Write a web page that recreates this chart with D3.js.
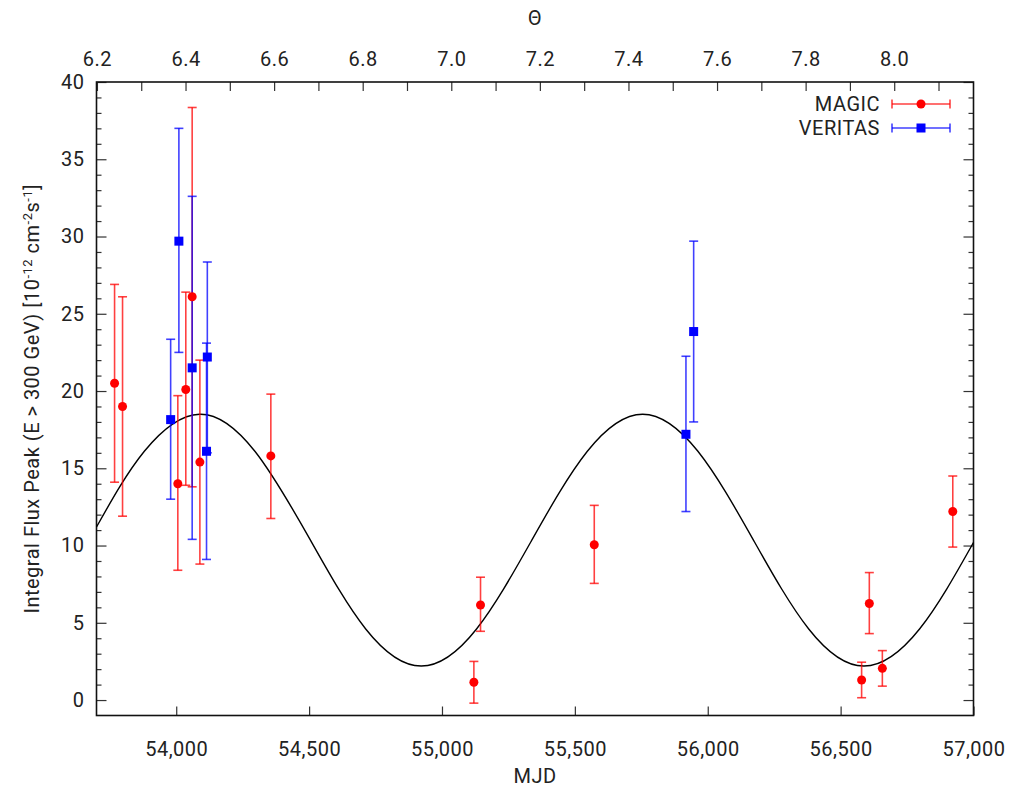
<!DOCTYPE html>
<html>
<head>
<meta charset="utf-8">
<script src="https://cdn.jsdelivr.net/npm/d3@7"></script>
<style>
  body { margin: 0; background: #fff; }
  svg text { font-family: Roboto, "Noto Sans", sans-serif; fill: #222; letter-spacing: 0.5px; }
</style>
</head>
<body>
<div id="chart"></div>
<script>
const WIDTH = 1019, HEIGHT = 790;
const MARGIN = { TOP: 82, BOTTOM: 74.5, LEFT: 96.5, RIGHT: 45.5 };
const width = WIDTH - MARGIN.LEFT - MARGIN.RIGHT;
const height = HEIGHT - MARGIN.TOP - MARGIN.BOTTOM;

// MAGIC points: MJD, flux, upper, lower
const magic_mjd   = [53768, 53798, 54006, 54036, 54060, 54089, 54356, 55120, 55145, 55573, 56579, 56608, 56657, 56922];
const magic_flux  = [20.5, 19.0, 14.0, 20.1, 26.1, 15.4, 15.8, 1.15, 6.15, 10.05, 1.3, 6.25, 2.05, 12.2];
const magic_up    = [26.9, 26.1, 19.7, 26.4, 38.35, 22.0, 19.8, 2.5, 7.95, 12.6, 2.45, 8.25, 3.2, 14.5];
const magic_low   = [14.1, 11.9, 8.4, 13.9, 13.8, 8.8, 11.75, -0.2, 4.45, 7.55, 0.15, 4.3, 0.9, 9.9];

// VERITAS points
const veritas_mjd  = [53979, 54010, 54060, 54117, 54114, 55918, 55947];
const veritas_flux = [18.15, 29.7, 21.5, 22.2, 16.1, 17.2, 23.85];
const veritas_up   = [23.35, 37.0, 32.6, 28.35, 23.1, 22.25, 29.7];
const veritas_low  = [13.0, 22.5, 10.4, 16.0, 9.1, 12.2, 18.0];

// model curve
const curve_mjd  = [53700, 53880, 54088, 54296, 54505, 54713, 54922, 55130, 55338, 55547, 55755, 55963, 56172, 56380, 56588, 56797, 57000];
const curve_flux = [11.2, 16.1, 18.5, 16.1, 10.35, 4.6, 2.2, 4.6, 10.35, 16.1, 18.5, 16.1, 10.35, 4.6, 2.2, 4.6, 10.2];

const mjd_ticks = [54000, 54500, 55000, 55500, 56000, 56500, 57000];
const theta_domain = [6.199, 8.179];

const x = d3.scaleLinear().domain([53700, 57000]).range([0, width]);
const y = d3.scaleLinear().domain([-1, 40]).range([height, 0]);
const xt = d3.scaleLinear().domain(theta_domain).range([0, width]);

const svg = d3.select('#chart').append('svg')
    .attr('width', WIDTH)
    .attr('height', HEIGHT);

const g = svg.append('g')
    .attr('transform', `translate(${MARGIN.LEFT},${MARGIN.TOP})`);

const fmt = d3.format(',');

// bottom axis (ticks inside)
g.append('g')
    .attr('transform', `translate(0,${height})`)
    .call(d3.axisBottom(x).tickValues(mjd_ticks).tickFormat(fmt).tickSize(-9).tickPadding(26));

// top axis theta, ticks every 0.1, labels every 0.2
const thetaTicks = d3.range(62, 82).map(d => d / 10);
g.append('g')
    .call(d3.axisTop(xt).tickValues(thetaTicks).tickSize(-9).tickPadding(16)
      .tickFormat(d => Math.round(d * 10) % 2 === 0 ? d3.format('.1f')(d) : ''));

// left axis: major every 5, minor every 1
const yMajor = d3.range(0, 41, 5);
const yMinor = d3.range(0, 41, 1).filter(d => d % 5 !== 0);
g.append('g')
    .call(d3.axisLeft(y).tickValues(yMajor).tickSize(-10).tickPadding(12));
g.append('g')
    .call(d3.axisLeft(y).tickValues(yMinor).tickSize(-5).tickFormat(''));
g.append('g')
    .attr('transform', `translate(${width},0)`)
    .call(d3.axisRight(y).tickValues(yMajor).tickSize(-10).tickFormat(''));
g.append('g')
    .attr('transform', `translate(${width},0)`)
    .call(d3.axisRight(y).tickValues(yMinor).tickSize(-5).tickFormat(''));

g.selectAll('.domain').remove();
g.selectAll('.tick line').attr('stroke', '#333').attr('stroke-width', 1.2);
g.selectAll('.tick text').style('font-size', '20px').attr('fill', '#222');

// frame
g.append('rect')
    .attr('width', width)
    .attr('height', height)
    .attr('fill', 'none')
    .attr('stroke', '#111')
    .attr('stroke-width', 1.6);

// model curve
const line = d3.line()
    .x((d, i) => x(curve_mjd[i]))
    .y(d => y(d))
    .curve(d3.curveNatural);

g.append('path')
    .datum(curve_flux)
    .attr('d', line)
    .attr('fill', 'none')
    .attr('stroke', '#000')
    .attr('stroke-width', 1.4);

const CAP = 4.5;
const drawBars = (mjd, up, low, color) => {
  const bars = g.append('g')
      .attr('stroke', color)
      .attr('stroke-width', 1.6)
      .attr('stroke-opacity', 0.75);
  mjd.forEach((m, i) => {
    const px = x(m);
    bars.append('line').attr('x1', px).attr('x2', px).attr('y1', y(up[i])).attr('y2', y(low[i]));
    bars.append('line').attr('x1', px - CAP).attr('x2', px + CAP).attr('y1', y(up[i])).attr('y2', y(up[i]));
    bars.append('line').attr('x1', px - CAP).attr('x2', px + CAP).attr('y1', y(low[i])).attr('y2', y(low[i]));
  });
}

drawBars(magic_mjd, magic_up, magic_low, '#ff0000');
drawBars(veritas_mjd, veritas_up, veritas_low, '#0000ff');

g.selectAll('.magic')
    .data(magic_flux)
    .enter().append('circle')
    .attr('class', 'magic')
    .attr('cx', (d, i) => x(magic_mjd[i]))
    .attr('cy', d => y(d))
    .attr('r', 4.5)
    .attr('fill', '#ff0000');

g.selectAll('.veritas')
    .data(veritas_flux)
    .enter().append('rect')
    .attr('class', 'veritas')
    .attr('x', (d, i) => x(veritas_mjd[i]) - 4.5)
    .attr('y', d => y(d) - 4.5)
    .attr('width', 9)
    .attr('height', 9)
    .attr('fill', '#0000ff');

// legend
const legend = svg.append('g');
const legendItems = [
  { name: 'MAGIC', color: '#ff0000', y: 104 },
  { name: 'VERITAS', color: '#0000ff', y: 128 }
];
legendItems.forEach(d => {
  legend.append('text')
      .attr('x', 880)
      .attr('y', d.y)
      .attr('dy', '0.35em')
      .attr('text-anchor', 'end')
      .style('font-size', '20px')
      .text(d.name);
  const lg = legend.append('g').attr('stroke', d.color).attr('stroke-width', 1.6).attr('stroke-opacity', 0.75);
  lg.append('line').attr('x1', 892).attr('x2', 950).attr('y1', d.y).attr('y2', d.y);
  lg.append('line').attr('x1', 892).attr('x2', 892).attr('y1', d.y - 4.5).attr('y2', d.y + 4.5);
  lg.append('line').attr('x1', 950).attr('x2', 950).attr('y1', d.y - 4.5).attr('y2', d.y + 4.5);
  if (d.name === 'MAGIC') {
    legend.append('circle').attr('cx', 921).attr('cy', d.y).attr('r', 4.5).attr('fill', d.color);
  } else {
    legend.append('rect').attr('x', 916.5).attr('y', d.y - 4.5).attr('width', 9).attr('height', 9).attr('fill', d.color);
  }
});

// axis titles
svg.append('text')
    .attr('x', MARGIN.LEFT + width / 2)
    .attr('y', 776)
    .attr('dy', '0.35em')
    .attr('text-anchor', 'middle')
    .style('font-size', '20px')
    .text('MJD');

svg.append('text')
    .attr('x', MARGIN.LEFT + width / 2)
    .attr('y', 18)
    .attr('dy', '0.35em')
    .attr('text-anchor', 'middle')
    .style('font-size', '20px')
    .text('Θ');

const ylab = svg.append('text')
    .attr('transform', `translate(39,${MARGIN.TOP + y(19.5)}) rotate(-90)`)
    .attr('text-anchor', 'middle')
    .style('font-size', '20px');
ylab.append('tspan').text('Integral Flux Peak (E > 300 GeV) [10');
ylab.append('tspan').attr('baseline-shift', 'super').style('font-size', '13px').text('-12');
ylab.append('tspan').text(' cm');
ylab.append('tspan').attr('baseline-shift', 'super').style('font-size', '13px').text('-2');
ylab.append('tspan').text('s');
ylab.append('tspan').attr('baseline-shift', 'super').style('font-size', '13px').text('-1');
ylab.append('tspan').text(']');
</script>
</body>
</html>
